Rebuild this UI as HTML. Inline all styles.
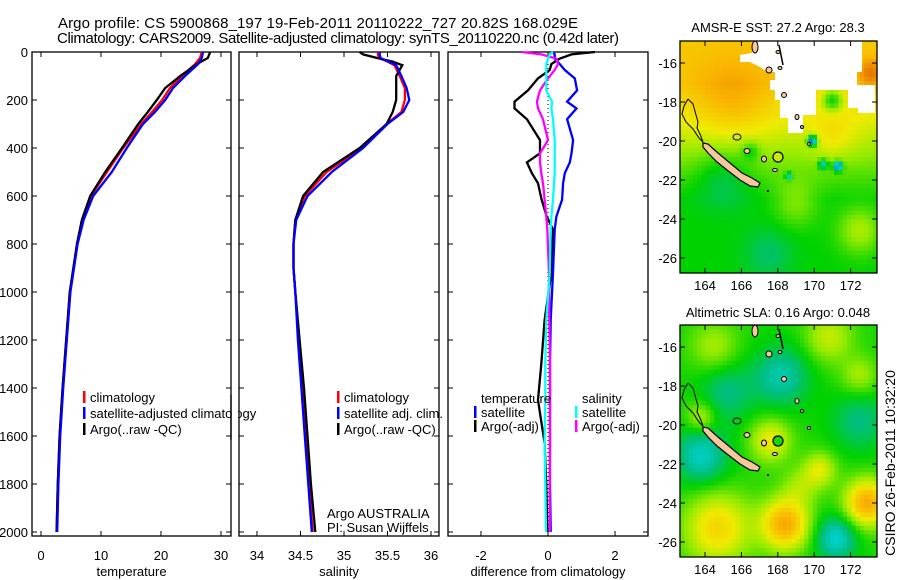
<!DOCTYPE html>
<html><head><meta charset="utf-8"><style>
html,body{margin:0;padding:0;background:#fff;}
svg{display:block;font-family:"Liberation Sans",sans-serif;}
</style></head><body>
<svg id="fig" width="900" height="580" viewBox="0 0 900 580" xmlns="http://www.w3.org/2000/svg">
<rect x="0" y="0" width="900" height="580" fill="#fff"/>
<text x="58" y="28" font-size="15" textLength="520">Argo profile: CS 5900868_197 19-Feb-2011 20110222_727 20.82S 168.029E</text>
<text x="57" y="43" font-size="15" textLength="562">Climatology: CARS2009. Satellite-adjusted climatology: synTS_20110220.nc (0.42d later)</text>
<g id="g1"></g>
<g id="g2"></g>
<g id="g3"></g>
<g id="m1"></g>
<g id="m2"></g>
<text transform="translate(895,463) rotate(-90)" text-anchor="middle" font-size="14">CSIRO 26-Feb-2011 10:32:20</text>
</svg>
<script>
// ---- profile data ----
const depths = [0,25,50,100,150,200,250,300,400,500,600,700,800,900,1000,1200,1400,1600,1800,2000];
const tempClim = [26.8,26.5,25.7,23.5,21.5,20.2,18.5,16.7,13.7,11.0,8.3,6.9,6.0,5.4,4.8,4.2,3.6,3.1,2.8,2.6];
const tempSat  = [27.0,26.8,26.2,24.0,22.0,20.7,19.0,17.0,14.3,11.8,8.7,7.1,6.1,5.5,4.9,4.3,3.7,3.2,2.9,2.7];
const tempArgo = [28.2,27.8,26.0,23.2,20.7,19.3,17.8,16.2,13.5,10.7,8.2,6.8,6.0,5.4,4.8,4.2,3.6,3.1,2.8,2.6];
const salDepths = [0,10,25,40,55,100,150,200,250,300,400,500,600,700,800,900,1000,1200,1400,1600,1800,2000];
const salClim = [35.39,35.39,35.40,35.50,35.58,35.64,35.70,35.70,35.66,35.49,35.20,34.80,34.55,34.44,34.42,34.42,34.44,34.48,34.52,34.56,34.60,34.64];
const salSat  = [35.41,35.41,35.42,35.51,35.60,35.66,35.72,35.75,35.68,35.50,35.22,34.86,34.58,34.45,34.42,34.42,34.44,34.47,34.51,34.55,34.59,34.63];
const salArgo = [35.18,35.22,35.38,35.56,35.67,35.60,35.60,35.60,35.56,35.49,35.18,34.76,34.53,34.44,34.42,34.42,34.44,34.49,34.54,34.58,34.62,34.67];
const diffDepths = [0,10,28,50,75,110,160,207,235,280,367,422,460,505,547,615,685,740,920,1117,1300,1450,1630,1800,2000];
const diffTSat  = [0.15,0.2,0.2,0.35,0.5,0.8,0.87,0.57,0.85,0.57,0.75,0.7,0.65,0.5,0.45,0.42,0.25,0.2,0.15,0.08,0.06,0.06,0.06,0.06,0.08];
const diffTArgo = [1.4,0.7,0.35,0.1,0.05,-0.3,-0.6,-1.0,-1.0,-0.63,-0.24,-0.24,-0.63,-0.48,-0.3,-0.19,-0.04,0.15,0.1,-0.1,-0.2,-0.3,-0.1,-0.05,-0.02];
const diffSSat  = [0.15,0.05,0.0,-0.05,-0.05,-0.05,-0.05,0.12,0.1,0.15,0.2,0.2,0.2,0.2,0.18,0.15,0.1,0.08,0.05,-0.05,-0.08,-0.08,-0.1,-0.08,-0.06];
const diffSArgo = [-0.78,-0.2,0.25,0.3,0.2,0.0,-0.24,-0.33,-0.3,-0.15,0.0,-0.24,-0.24,-0.2,-0.15,-0.1,-0.05,-0.02,0.03,0.04,0.06,0.06,0.06,0.05,0.05];
const tempTicks = [0,10,20,30];
const salTicks = [34,34.5,35,35.5,36];
const diffTicks = [-2,0,2];
const depthTicks = [0,200,400,600,800,1000,1200,1400,1600,1800,2000];

const NS='http://www.w3.org/2000/svg';
function mk(parent, tag, attrs, txt){const e=document.createElementNS(NS,tag);for(const k in attrs)e.setAttribute(k,attrs[k]);if(txt!==undefined)e.textContent=txt;parent.appendChild(e);return e;}
const yTop=52, yBot=536;
function yd(p){return yTop+0.24*p;}

function panel(g, x0, x1, xf, ticks, labels, title, showY, clipId){
  const r=mk(g,'rect',{x:x0,y:yTop,width:x1-x0,height:yBot-yTop,fill:'none',stroke:'#000','stroke-width':1.3});
  
  
  ticks.forEach((t,i)=>{
    const x=xf(t);
    mk(g,'line',{x1:x,x2:x,y1:yBot,y2:yBot-5,stroke:'#000'});
    mk(g,'line',{x1:x,x2:x,y1:yTop,y2:yTop+5,stroke:'#000'});
    const tl=mk(g,'text',{x:x,y:560,'font-size':13,'text-anchor':'middle'},labels[i]);
    
    
  });
  depthTicks.forEach(d=>{
    const y=yd(d);
    mk(g,'line',{x1:x0,x2:x0+5,y1:y,y2:y,stroke:'#000'});
    mk(g,'line',{x1:x1,x2:x1-5,y1:y,y2:y,stroke:'#000'});
    if(showY){const yl=mk(g,'text',{x:28,y:y+5,'font-size':13,'text-anchor':'end'},String(d));
      
      }
  });
  const xt=mk(g,'text',{x:(x0+x1)/2,y:576,'font-size':13,'text-anchor':'middle'},title);
  
  
  const defs=mk(g,'defs',{});
  const cp=mk(defs,'clipPath',{id:clipId});
  mk(cp,'rect',{x:x0,y:yTop-4,width:x1-x0,height:yBot-yTop+4});
}
function line(g, xs, ds, xf, color, clip, name){
  const pts=xs.map((v,i)=>xf(v).toFixed(1)+','+yd(ds[i]).toFixed(1)).join(' ');
  const p=mk(g,'polyline',{points:pts,fill:'none',stroke:color,'stroke-width':2.3,'clip-path':'url(#'+clip+')'});
  
  
}
function legend(g,x,y,color,label){
  if(color) mk(g,'rect',{x:x-7,y:y-11,width:2.5,height:12,fill:color});
  const t=mk(g,'text',{x:x,y:y,'font-size':13},label);
  
  
}

// Temperature panel
const g1=document.getElementById('g1');
const tx=t=>41+6*t;
panel(g1,32,231,tx,tempTicks,['0','10','20','30'],'temperature',true,'c1');
line(g1,tempClim,depths,tx,'#f00','c1','climatology-line');
line(g1,tempArgo,depths,tx,'#000','c1','argo-line');
line(g1,tempSat,depths,tx,'#00f','c1','satellite-line');
legend(g1,90,402,'#f00','climatology');
legend(g1,90,418,'#00f','satellite-adjusted climatology');
legend(g1,90,434,'#000','Argo(..raw -QC)');
mk(g1,'rect',{x:232,y:395,width:6,height:45,fill:'#fff'});
mk(g1,'line',{x1:231,x2:231,y1:395,y2:440,stroke:'#000','stroke-width':1.3});

// Salinity panel
const g2=document.getElementById('g2');
const sx=s=>257+87*(s-34);
panel(g2,239,439,sx,salTicks,['34','34.5','35','35.5','36'],'salinity',false,'c2');
line(g2,salClim,salDepths,sx,'#f00','c2','climatology-line');
line(g2,salArgo,salDepths,sx,'#000','c2','argo-line');
line(g2,salSat,salDepths,sx,'#00f','c2','satellite-line');
legend(g2,344,402,'#f00','climatology');
legend(g2,344,418,'#00f','satellite adj. clim.');
legend(g2,344,434,'#000','Argo(..raw -QC)');
const a1=mk(g2,'text',{x:327,y:518,'font-size':13},'Argo AUSTRALIA');


const a2=mk(g2,'text',{x:327,y:532,'font-size':13},'PI: Susan Wijffels');



// Difference panel
const g3=document.getElementById('g3');
const dx=d=>548+33.5*d;
panel(g3,448,648,dx,diffTicks,['-2','0','2'],'difference from climatology',false,'c3');
mk(g3,'line',{x1:dx(0),x2:dx(0),y1:yTop,y2:yBot,stroke:'#000','stroke-width':1,'stroke-dasharray':'1,3'});
line(g3,diffTArgo,diffDepths,dx,'#000','c3','temp-argo-diff-line');
line(g3,diffTSat,diffDepths,dx,'#00f','c3','temp-satellite-diff-line');
line(g3,diffSArgo,diffDepths,dx,'#f0f','c3','sal-argo-diff-line');
line(g3,diffSSat,diffDepths,dx,'#0ff','c3','sal-satellite-diff-line');
legend(g3,481,403,null,'temperature');
legend(g3,481,417,'#00f','satellite');
legend(g3,481,431,'#000','Argo(-adj)');
legend(g3,582,403,null,'salinity');
legend(g3,582,417,'#0ff','satellite');
legend(g3,582,431,'#f0f','Argo(-adj)');

// ---- maps ----
const lonTicks=[164,166,168,170,172];
const latTicks=[16,18,20,22,24,26];
const sstBlobs=[[165.5,18,0.1,2.2],[167.5,25.8,-0.08,1.3],[165,21.8,-0.1,1.5],[169,23.2,0.1,1.2],[172.5,24.6,0.14,1.2],[171,19.8,0.08,1.2],[173.1,16.5,0.18,0.7],[171,17.9,-0.25,0.6],[168.4,17.7,-0.2,0.35],[169.9,20,-0.55,0.25],[171.3,21.3,-0.45,0.25],[170.5,21.2,-0.3,0.25],[168.6,21.8,-0.3,0.18],[166.5,20.5,-0.12,0.5]];
const slaBlobs=[[164.7,25.3,0.25,1.8],[168.4,25.1,0.35,1.3],[172.9,24,0.35,1.2],[171.2,25.8,-0.22,1.1],[163.8,21.6,-0.2,1.4],[168.2,17.5,-0.17,1.5],[165.2,18.3,-0.12,1.5],[172.5,19.8,-0.12,1.5],[167.6,20.8,0.2,1.1],[163.8,19.6,0.15,0.8],[170.3,22.3,0.18,0.9],[170.8,15.5,0.15,1.3],[164.5,16,0.12,1.3],[172.5,17.5,0.12,1.0],[169.2,23.2,0.1,1.0]];
function cmap(v){
  const st=[[0,[0,30,130]],[0.15,[0,90,230]],[0.3,[0,210,210]],[0.4,[0,190,130]],[0.5,[0,210,0]],[0.62,[150,235,0]],[0.72,[240,235,0]],[0.85,[250,180,0]],[1,[225,110,0]]];
  v=Math.max(0,Math.min(1,v));
  for(let i=1;i<st.length;i++){if(v<=st[i][0]){const a=st[i-1],b=st[i];const f=(v-a[0])/(b[0]-a[0]);return 'rgb('+a[1].map((c,k)=>Math.round(c+(b[1][k]-c)*f)).join(',')+')';}}
  return 'rgb(225,110,0)';
}
function drawMap(gid, oy, title, base, blobs, white){
  const g=document.getElementById(gid);
  const X0=680,X1=877,Y0=41+oy,Y1=273+oy;
  const lon=x=>164+(x-705)/18.2; const lat=y=>16+(y-63-oy)/19.5;
  const px=lo=>705+(lo-164)*18.2; const py=la=>63+oy+(la-16)*19.5;
  const nc=46,nr=52,cw=(X1-X0)/nc,ch=(Y1-Y0)/nr;
  for(let i=0;i<nr;i++)for(let j=0;j<nc;j++){
    const lo=lon(X0+(j+0.5)*cw), la=lat(Y0+(i+0.5)*ch);
    let v=base(lo,la);
    blobs.forEach(b=>{const d2=((lo-b[0])**2+(la-b[1])**2)/(b[3]*b[3]);v+=b[2]*Math.exp(-d2);});
    mk(g,'rect',{x:(X0+j*cw).toFixed(2),y:(Y0+i*ch).toFixed(2),width:(cw+0.4).toFixed(2),height:(ch+0.4).toFixed(2),fill:cmap(v)});
  }
  if(white){const w=mk(g,'polygon',{points:white.map(p=>p[0]+','+(p[1]+oy)).join(' '),fill:'#fff'});
    
    }
  const land='#f7c89b';
  const nc1=[[703,143],[708,144],[718,153],[730,163],[742,173],[752,178],[760,183],[758,187],[750,186],[740,180],[727,170],[717,162],[708,153],[703,147]];
  const isl=mk(g,'polygon',{points:nc1.map(p=>p[0]+','+(p[1]+oy)).join(' '),fill:land,stroke:'#000','stroke-width':1.2});
  
  
  const coast=[[688,99],[693,104],[696,115],[698,122],[697,128],[700,134],[703,142],[699,138],[693,129],[686,122],[682,114],[684,106],[688,99]];
  mk(g,'polyline',{points:coast.map(p=>p[0]+','+(p[1]+oy)).join(' '),fill:'none',stroke:'#000','stroke-width':1});
  [[755,47,3,6],[769,70,3,3],[778,52,2,1.5],[780,68,2,1.5],[784,95,2.5,2.5],[797,117,2,2.5],[802,127,1.5,1.5],[809,144,1.5,1.5],[747,151,3,2.5],[764,159,2.5,3],[775,170,2.5,1.5]].forEach(e=>{
    mk(g,'ellipse',{cx:e[0],cy:e[1]+oy,rx:e[2],ry:e[3],fill:land,stroke:'#000','stroke-width':1});
  });
  mk(g,'ellipse',{cx:737,cy:137+oy,rx:4,ry:3,fill:'none',stroke:'#000','stroke-width':1});
  mk(g,'polyline',{points:`779,${45+oy} 781,${55+oy} 783,${65+oy}`,fill:'none',stroke:'#000','stroke-width':1.5});
  mk(g,'rect',{x:767,y:190+oy,width:2,height:2,fill:'#000'});
  const c=mk(g,'circle',{cx:778,cy:157+oy,r:5,fill:cmap(oy?0.52:0.68),stroke:'#000','stroke-width':1.2});
  
  
  mk(g,'rect',{x:X0,y:Y0,width:X1-X0,height:Y1-Y0,fill:'none',stroke:'#000','stroke-width':1.3});
  lonTicks.forEach(lo=>{const x=px(lo);
    mk(g,'line',{x1:x,x2:x,y1:Y0,y2:Y0+5,stroke:'#000'});mk(g,'line',{x1:x,x2:x,y1:Y1,y2:Y1-5,stroke:'#000'});
    const t=mk(g,'text',{x:x,y:Y1+17,'font-size':13,'text-anchor':'middle'},String(lo));
    
    });
  latTicks.forEach(la=>{const y=py(la);
    mk(g,'line',{x1:X0,x2:X0+5,y1:y,y2:y,stroke:'#000'});mk(g,'line',{x1:X1,x2:X1-5,y1:y,y2:y,stroke:'#000'});
    const t=mk(g,'text',{x:677,y:y+5,'font-size':13,'text-anchor':'end'},'-'+la);
    
    });
  const tt=mk(g,'text',{x:778,y:oy?317:32,'font-size':13,'text-anchor':'middle'},title);
  
  
}
const whiteMask=[[752,41],[862,41],[862,72],[857,72],[857,85],[875,85],[875,113],[858,113],[858,108],[848,108],[848,90],[816,90],[816,115],[803,115],[803,133],[788,133],[788,118],[780,118],[780,100],[775,100],[775,90],[770,90],[770,80],[775,80],[775,72],[767,72],[760,67],[750,62],[740,62],[740,55],[752,53]];
drawMap('m1',0,'AMSR-E SST: 27.2 Argo: 28.3',(lo,la)=>0.5+0.3*Math.max(0,Math.min(1,(23-la)/6)),sstBlobs,whiteMask);
drawMap('m2',284,'Altimetric SLA: 0.16 Argo: 0.048',(lo,la)=>0.52,slaBlobs,null);
</script>
</body></html>
